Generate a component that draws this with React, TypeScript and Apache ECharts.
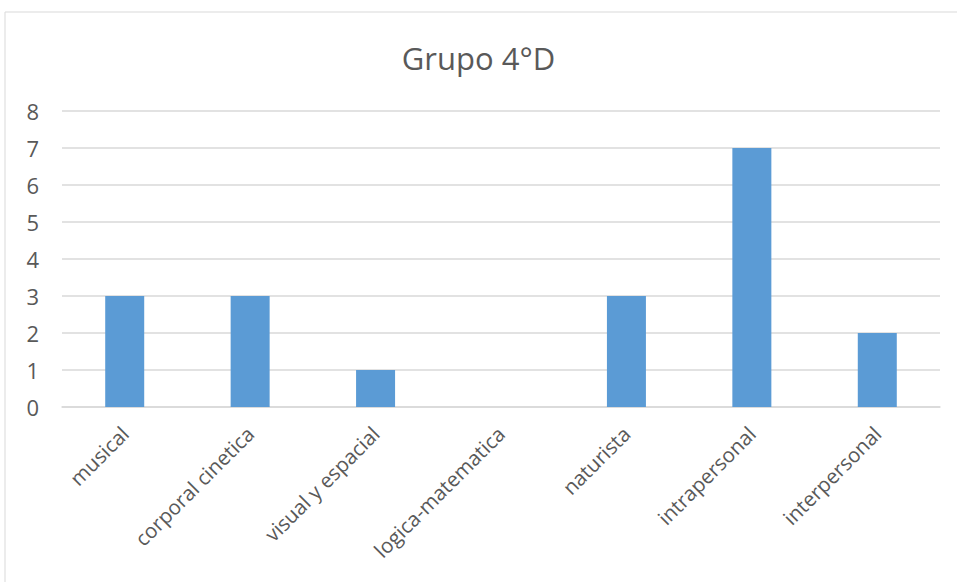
import React, { useEffect, useRef } from "react";
import * as echarts from "echarts";

const categories = [
  "musical",
  "corporal cinetica",
  "visual y espacial",
  "logica-matematica",
  "naturista",
  "intrapersonal",
  "interpersonal",
];
const values = [3, 3, 1, 0, 3, 7, 2];
const yTicks = { min: 0, max: 8, interval: 1 };
const titleText = "Grupo 4°D";

export default function App() {
  const ref = useRef<HTMLDivElement>(null);
  useEffect(() => {
    if (!ref.current) return;
    const chart = echarts.init(ref.current, null, { renderer: "svg" });
    chart.setOption({
      animation: false,
      backgroundColor: "#ffffff",
      textStyle: { fontFamily: "Open Sans, Liberation Sans, sans-serif" },
      graphic: [
        {
          type: "rect",
          shape: { x: 5, y: 12, width: 960, height: 580 },
          style: { fill: "none", stroke: "#d9d9d9", lineWidth: 1 },
          silent: true,
          z: -10,
        },
      ],
      title: {
        text: titleText,
        left: "center",
        top: 37,
        textStyle: {
          fontSize: 31,
          fontWeight: "normal",
          color: "#595959",
          fontFamily: "Open Sans, Liberation Sans, sans-serif",
        },
      },
      grid: { left: 62, right: 17, top: 111, bottom: 175 },
      xAxis: {
        type: "category",
        data: categories,
        axisLine: { show: true, lineStyle: { color: "#d9d9d9", width: 1.5 } },
        axisTick: { show: false },
        axisLabel: {
          rotate: 45,
          color: "#595959",
          fontSize: 20.5,
          margin: 23,
          interval: 0,
        },
      },
      yAxis: {
        type: "value",
        min: yTicks.min,
        max: yTicks.max,
        interval: yTicks.interval,
        axisLine: { show: false },
        axisTick: { show: false },
        axisLabel: { color: "#595959", fontSize: 22, margin: 23 },
        splitLine: { lineStyle: { color: "#d9d9d9", width: 1.5 } },
      },
      series: [
        {
          type: "bar",
          data: values,
          barWidth: 39,
          itemStyle: { color: "#5b9bd5" },
        },
      ],
    });
    return () => chart.dispose();
  }, []);
  return (
    <div
      ref={ref}
      style={{ position: "fixed", left: 0, top: 0, width: 957, height: 582 }}
    />
  );
}
